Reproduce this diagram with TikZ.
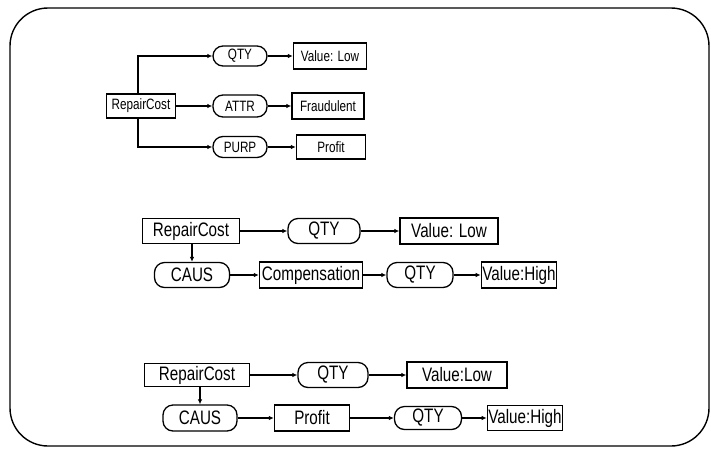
\documentclass[tikz,border=0pt]{standalone}
\usepackage{fontspec}
\setmainfont{Liberation Sans}[FakeStretch=0.78]
\usetikzlibrary{arrows.meta}
\tikzset{
  cbox/.style={draw, line width=1.3pt, rectangle, inner sep=1pt},
  rel/.style={draw, line width=1.3pt, rectangle, rounded corners=10pt, inner sep=1pt},
  small/.style={font=\fontsize{15}{15}\selectfont},
  big/.style={font=\fontsize{19.5}{19.5}\selectfont},
  arr/.style={line width=1.3pt, -{Latex[length=5pt,width=4.5pt]}},
}
\begin{document}
\begin{tikzpicture}[x=1pt,y=-1pt]
\useasboundingbox (0,0) rectangle (711,453);
\draw[line width=1.4pt, rounded corners=38pt] (10,8) rectangle (709,446);

% Graph 1
\begin{scope}[small]
\node[cbox, minimum width=69, minimum height=24] (rc1) at (141,106) {RepairCost};
\node[rel, minimum width=54, minimum height=20] (q1) at (240,56) {QTY};
\node[rel, minimum width=54, minimum height=22] (a1) at (240,106) {ATTR};
\node[rel, minimum width=54, minimum height=21] (p1) at (240,147) {PURP};
\node[cbox, minimum width=73, minimum height=26] (v1) at (330,56) {Value: Low};
\node[cbox, minimum width=72, minimum height=26] (f1) at (328,106) {Fraudulent};
\node[cbox, minimum width=69, minimum height=24] (pr1) at (331,147) {Profit};
\end{scope}
\draw[arr] ([xshift=-3pt]rc1.north) |- (q1.west);
\draw[arr] (rc1.east) -- (a1.west);
\draw[arr] ([xshift=-3pt]rc1.south) |- (p1.west);
\draw[arr] (q1.east) -- (v1.west);
\draw[arr] (a1.east) -- (f1.west);
\draw[arr] (p1.east) -- (pr1.west);

% Graph 2
\begin{scope}[big]
\node[cbox, minimum width=97, minimum height=25] (rc2) at (191,231) {RepairCost};
\node[rel, minimum width=72, minimum height=25] (q2) at (324,231) {QTY};
\node[cbox, minimum width=98, minimum height=26] (v2) at (449,231) {Value: Low};
\node[rel, minimum width=75, minimum height=25] (c2) at (192,275) {CAUS};
\node[cbox, minimum width=103, minimum height=26] (cm2) at (311,275) {Compensation};
\node[rel, minimum width=66, minimum height=25] (qb2) at (420,275) {QTY};
\node[cbox, minimum width=75, minimum height=26] (vh2) at (519,275) {Value:High};
\end{scope}
\draw[arr] (rc2.east) -- (q2.west);
\draw[arr] (q2.east) -- (v2.west);
\draw[arr] (c2.north |- rc2.south) -- (c2.north);
\draw[arr] (c2.east) -- (cm2.west);
\draw[arr] (cm2.east) -- (qb2.west);
\draw[arr] (qb2.east) -- (vh2.west);

% Graph 3
\begin{scope}[big]
\node[cbox, minimum width=105, minimum height=23] (rc3) at (197,375) {RepairCost};
\node[rel, minimum width=70, minimum height=25] (q3) at (333,375) {QTY};
\node[cbox, minimum width=100, minimum height=26] (v3) at (457,375) {Value:Low};
\node[rel, minimum width=74, minimum height=26] (c3) at (200,418) {CAUS};
\node[cbox, minimum width=75, minimum height=26] (pf3) at (312,418) {Profit};
\node[rel, minimum width=67, minimum height=23] (qb3) at (428,418) {QTY};
\node[cbox, minimum width=75, minimum height=25] (vh3) at (525,418) {Value:High};
\end{scope}
\draw[arr] (rc3.east) -- (q3.west);
\draw[arr] (q3.east) -- (v3.west);
\draw[arr] (c3.north |- rc3.south) -- (c3.north);
\draw[arr] (c3.east) -- (pf3.west);
\draw[arr] (pf3.east) -- (qb3.west);
\draw[arr] (qb3.east) -- (vh3.west);
\end{tikzpicture}
\end{document}
